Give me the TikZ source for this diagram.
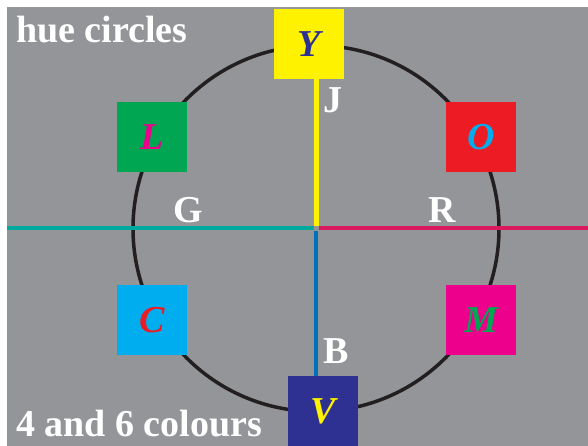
\documentclass[tikz,border=0pt]{standalone}
\usepackage{fontspec}
\setmainfont{Liberation Serif}
\usepackage{tikz}
\usepackage{xcolor}
\usetikzlibrary{positioning}
\definecolor{Bg}{HTML}{939598}
\definecolor{Ring}{HTML}{231F20}
\definecolor{Yel}{HTML}{FFF200}
\definecolor{Grn}{HTML}{00A651}
\definecolor{Red}{HTML}{ED1C24}
\definecolor{Cya}{HTML}{00AEEF}
\definecolor{Mag}{HTML}{EC008C}
\definecolor{Vio}{HTML}{2E3192}
\definecolor{Teal}{HTML}{00A99D}
\definecolor{Crimson}{HTML}{DA1A5C}
\definecolor{Azure}{HTML}{0072BC}

\begin{document}
\begin{tikzpicture}[x=1pt,y=1pt,
  hue/.style={minimum width=70pt,minimum height=70pt,inner sep=0pt,font=\fontsize{38}{40}\selectfont\bfseries\itshape},
  caption/.style={anchor=base west,inner sep=0pt,text=white,font=\fontsize{38}{40}\selectfont\bfseries},
  axis/.style={line width=4pt},
  ring/.style={draw=Ring,line width=3.5pt}
]
\useasboundingbox (0,0) rectangle (588,446);
\fill[Bg] (7,0) rectangle (588,439);
\coordinate (c) at (316,217.5);
\coordinate (w) at (7,217.5);
\coordinate (e) at (588,217.5);
\draw[ring] (c) circle (183);
% hue boxes
\node[hue,fill=Yel,text=Vio] (Y) at (309,402) {Y};
\node[hue,fill=Vio,text=Yel] (V) at (323,35) {V};
\node[hue,fill=Grn,text=Mag] (L) at (152,309) {L};
\node[hue,fill=Red,text=Cya] (O) at (481,309) {O};
\node[hue,fill=Cya,text=Red] (C) at (152,126) {C};
\node[hue,fill=Mag,text=Grn] (M) at (481,126) {M};
% axes
\draw[axis,draw=Yel,line width=5pt,shorten >=2.5pt] (Y.south -| c) -- (c);
\draw[axis,draw=Azure,shorten <=2.5pt] (c) -- (V.north -| c);
\draw[axis,draw=Teal,shorten >=2.5pt] (w) -- (c);
\draw[axis,draw=Crimson,shorten <=2.5pt] (c) -- (e);
% labels
\node[caption] (title) at (16,403) {hue circles};
\node[caption] (sub) at (16,9) {4 and 6 colours};
\node[caption] (J) at (323,333) {J};
\node[caption] (G) at (173,223) {G};
\node[caption] (R) at (428,223) {R};
\node[caption] (B) at (323,82) {B};
\end{tikzpicture}
\end{document}
